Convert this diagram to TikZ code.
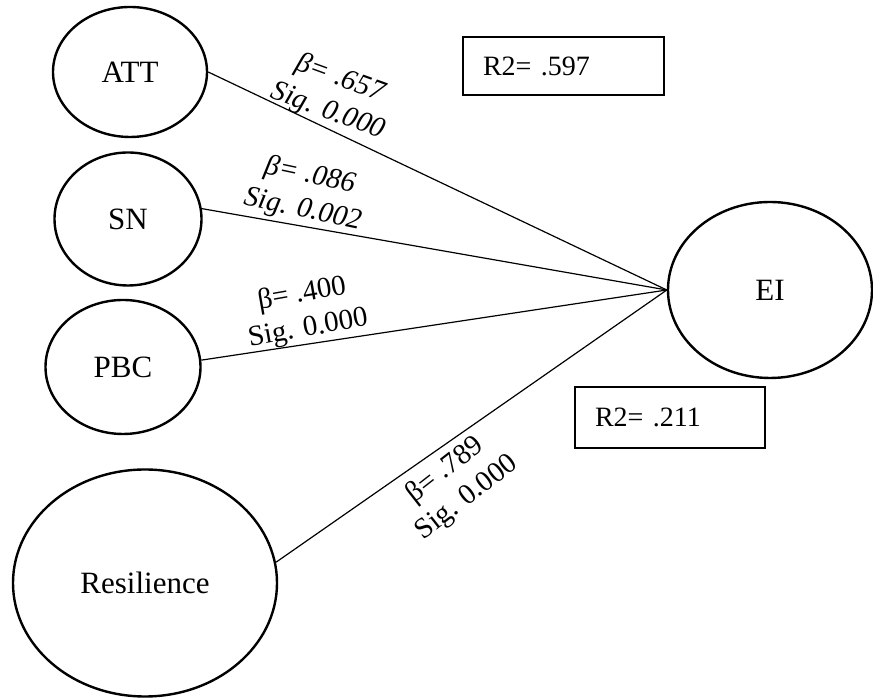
\documentclass[tikz,border=0pt]{standalone}
\usepackage{fontspec}
\setmainfont{Liberation Serif}
\usetikzlibrary{shapes.geometric}

\begin{document}
\begin{tikzpicture}[x=1pt,y=1pt,
  latent/.style={draw,ellipse,line width=2.4pt,inner sep=0pt,font=\fontsize{31}{31}\selectfont},
  rbox/.style={draw,line width=1.3pt,inner xsep=20pt,inner ysep=0pt,align=left,font=\fontsize{28}{28}\selectfont},
  coef/.style={align=center,inner sep=1pt,font=\fontsize{29}{35}\selectfont},
  coefit/.style={coef,font=\fontsize{29}{35}\selectfont\itshape},
  link/.style={line width=1.2pt}]
\useasboundingbox (0,0) rectangle (873,698);

% constructs
\node[latent,minimum width=154,minimum height=130] (att) at (130,626) {ATT};
\node[latent,minimum width=147,minimum height=133] (sn) at (128,479) {SN};
\node[latent,minimum width=155,minimum height=134] (pbc) at (123,331) {PBC};
\node[latent,minimum width=264,minimum height=227] (res) at (145,115) {Resilience};
\node[latent,minimum width=204,minimum height=176] (ei) at (770,408) {EI};

% explained variance
\node[rbox,text width=161,minimum height=58] (r2a) at (563.5,632) {R2= .597};
\node[rbox,text width=150,minimum height=61] (r2b) at (670,280.5) {R2= .211};

% paths
\draw[link] (att.east) -- node[coefit,pos=.25,above=1pt,rotate=-20] (catt) {β= .657\\Sig. 0.000} (ei.west);
\draw[link] (sn.8) -- node[coefit,pos=.21,above=1pt,rotate=-12] (csn) {β= .086\\Sig. 0.002} (ei.west);
\draw[link] (pbc.5) -- node[coef,pos=.235,above=0pt,rotate=10] (cpbc) {β= .400\\Sig. 0.000} (ei.west);
\draw[link] (res.9) -- node[coef,pos=.41,below=8pt,rotate=38] (cres) {β= .789\\Sig. 0.000} (ei.west);
\end{tikzpicture}
\end{document}
